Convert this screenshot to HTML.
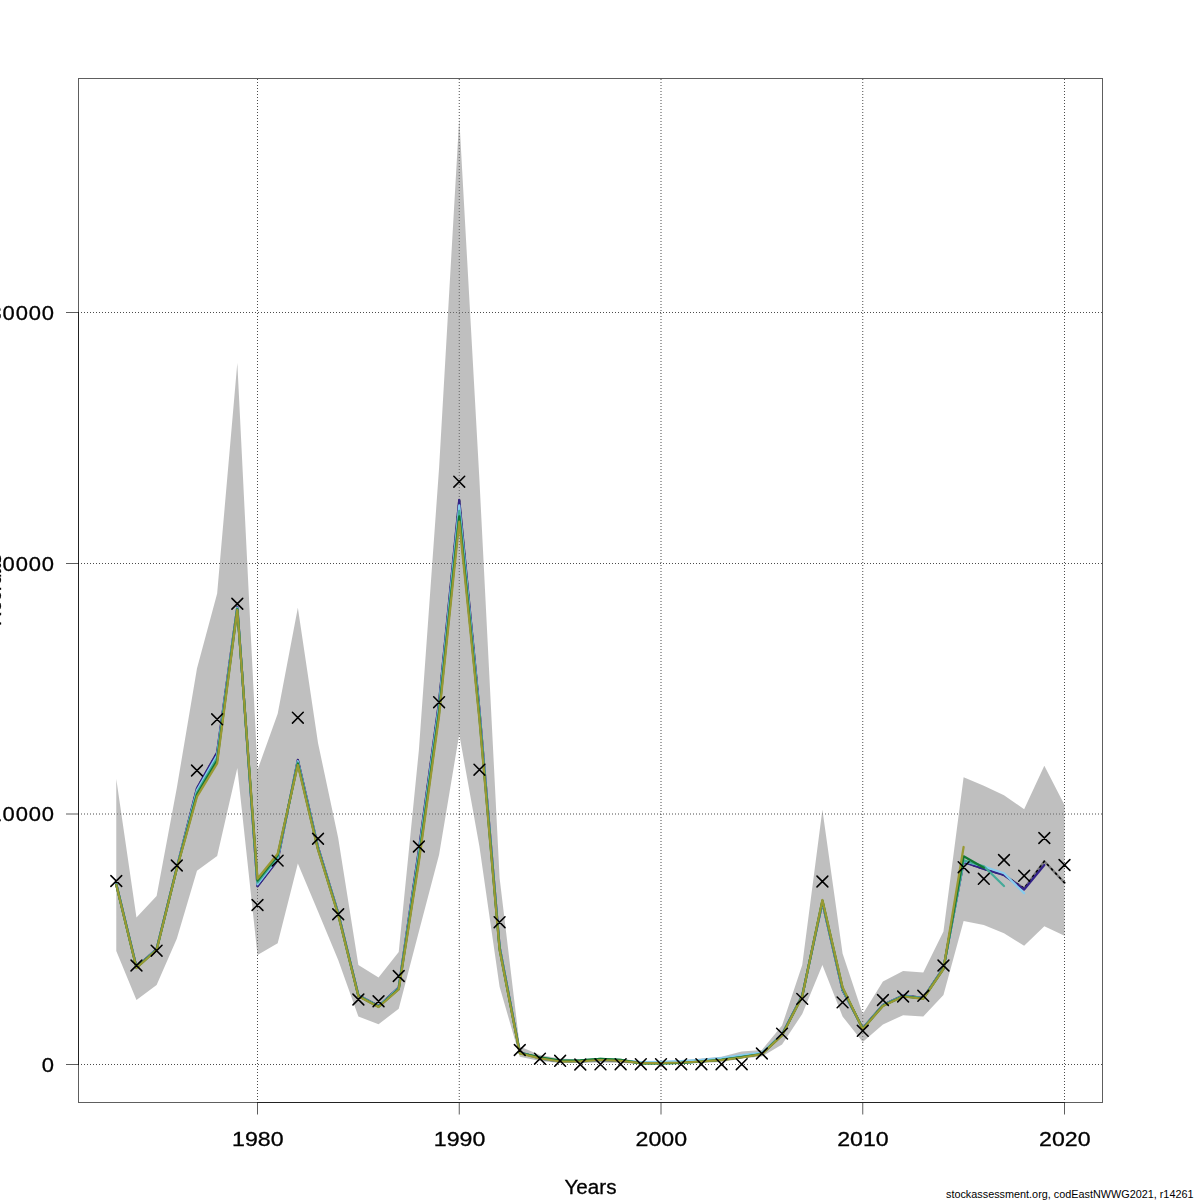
<!DOCTYPE html>
<html><head><meta charset="utf-8"><title>Recruitment</title>
<style>
html,body{margin:0;padding:0;background:#fff;width:1200px;height:1200px;overflow:hidden;}
svg{display:block;font-family:"Liberation Sans",sans-serif;}
</style></head><body>
<svg width="1200" height="1200" viewBox="0 0 1200 1200">
<line x1="257.50" y1="79" x2="257.50" y2="1102" stroke="#000" stroke-opacity="0.7" stroke-width="1" stroke-dasharray="1,2"/>
<line x1="459.25" y1="79" x2="459.25" y2="1102" stroke="#000" stroke-opacity="0.7" stroke-width="1" stroke-dasharray="1,2"/>
<line x1="661.00" y1="79" x2="661.00" y2="1102" stroke="#000" stroke-opacity="0.7" stroke-width="1" stroke-dasharray="1,2"/>
<line x1="862.75" y1="79" x2="862.75" y2="1102" stroke="#000" stroke-opacity="0.7" stroke-width="1" stroke-dasharray="1,2"/>
<line x1="1064.50" y1="79" x2="1064.50" y2="1102" stroke="#000" stroke-opacity="0.7" stroke-width="1" stroke-dasharray="1,2"/>
<line x1="78" y1="312.50" x2="1102" y2="312.50" stroke="#000" stroke-opacity="0.7" stroke-width="1" stroke-dasharray="1,2"/>
<line x1="78" y1="563.50" x2="1102" y2="563.50" stroke="#000" stroke-opacity="0.7" stroke-width="1" stroke-dasharray="1,2"/>
<line x1="78" y1="814.00" x2="1102" y2="814.00" stroke="#000" stroke-opacity="0.7" stroke-width="1" stroke-dasharray="1,2"/>
<line x1="78" y1="1064.50" x2="1102" y2="1064.50" stroke="#000" stroke-opacity="0.7" stroke-width="1" stroke-dasharray="1,2"/>
<polygon points="116.28,779.00 136.45,917.50 156.62,896.00 176.80,788.00 196.97,668.50 217.15,593.50 237.32,363.00 257.50,770.00 277.68,713.75 297.85,607.80 318.02,743.00 338.20,838.00 358.38,965.00 378.55,977.50 398.73,952.00 418.90,750.00 439.08,468.00 459.25,118.30 479.43,480.00 499.60,878.00 519.78,1046.50 539.95,1055.00 560.12,1058.50 580.30,1059.50 600.48,1059.00 620.65,1059.00 640.83,1061.00 661.00,1061.00 681.17,1060.50 701.35,1058.50 721.53,1056.70 741.70,1051.50 761.88,1050.00 782.05,1025.50 802.23,965.00 822.40,809.80 842.58,953.40 862.75,1014.00 882.93,981.40 903.10,970.90 923.27,972.50 943.45,931.50 963.62,777.20 983.80,785.80 1003.98,795.30 1024.15,809.20 1044.33,765.80 1064.50,805.00 1064.50,935.80 1044.33,926.30 1024.15,945.80 1003.98,933.30 983.80,925.00 963.62,921.00 943.45,995.00 923.27,1016.40 903.10,1015.20 882.93,1024.50 862.75,1042.00 842.58,1016.40 822.40,965.00 802.23,1014.00 782.05,1044.40 761.88,1056.50 741.70,1058.50 721.53,1062.00 701.35,1063.00 681.17,1064.00 661.00,1064.00 640.83,1064.00 620.65,1063.00 600.48,1062.50 580.30,1063.00 560.12,1063.00 539.95,1061.00 519.78,1056.70 499.60,986.70 479.43,846.40 459.25,734.20 439.08,854.70 418.90,931.40 398.73,1008.75 378.55,1024.25 358.38,1016.50 338.20,960.00 318.02,911.60 297.85,863.50 277.68,943.25 257.50,955.00 237.32,768.00 217.15,856.00 196.97,870.80 176.80,938.80 156.62,985.00 136.45,1000.00 116.28,951.00" fill="#7f7f7f" fill-opacity="0.5" stroke="none"/>
<polyline points="116.28,884.00 136.45,967.00 156.62,949.00 176.80,867.70 196.97,788.30 217.15,752.50 237.32,607.00 257.50,886.25 277.68,859.95 297.85,760.00 318.02,847.00 338.20,913.00 358.38,995.25 378.55,1006.00 398.73,987.50 418.90,850.00 439.08,702.00 459.25,500.00 479.43,710.00 499.60,947.00 519.78,1052.30 539.95,1058.30 560.12,1061.50 580.30,1061.30 600.48,1060.00 620.65,1060.80 640.83,1062.70 661.00,1062.70 681.17,1062.20 701.35,1061.10 721.53,1059.60 741.70,1056.90 761.88,1053.70 782.05,1034.40 802.23,995.50 822.40,902.50 842.58,990.20 862.75,1028.20 882.93,1004.90 903.10,995.50 923.27,997.90 943.45,968.00 963.62,862.00 983.80,869.00 1003.98,875.00 1024.15,888.40 1044.33,861.25 1064.50,882.75" fill="none" stroke="#7a7a7a" stroke-width="2.3" stroke-linejoin="round" stroke-linecap="round"/>
<polyline points="1064.50,882.75 1044.33,861.25 1024.15,888.40 1003.98,875.00 983.80,869.00 963.62,862.00 943.45,968.00 923.27,997.90 903.10,995.50 882.93,1004.90 862.75,1028.20 842.58,990.20 822.40,902.50 802.23,995.50 782.05,1034.40 761.88,1053.70 741.70,1056.90 721.53,1059.60 701.35,1061.10 681.17,1062.20 661.00,1062.70 640.83,1062.70 620.65,1060.80 600.48,1060.00 580.30,1061.30 560.12,1061.50 539.95,1058.30 519.78,1052.30 499.60,947.00 479.43,710.00 459.25,500.00 439.08,702.00 418.90,850.00 398.73,987.50 378.55,1006.00 358.38,995.25 338.20,913.00 318.02,847.00 297.85,760.00 277.68,859.95 257.50,886.25 237.32,607.00 217.15,752.50 196.97,788.30 176.80,867.70 156.62,949.00 136.45,967.00 116.28,884.00" fill="none" stroke="#000" stroke-width="1.6" stroke-dasharray="1.4,4.5" stroke-linecap="round" stroke-linejoin="round"/>
<polyline points="116.28,884.00 136.45,967.00 156.62,949.00 176.80,867.70 196.97,788.30 217.15,752.50 237.32,607.00 257.50,886.25 277.68,859.95 297.85,760.00 318.02,847.00 338.20,913.00 358.38,995.25 378.55,1006.00 398.73,987.50 418.90,850.00 439.08,702.00 459.25,500.00 479.43,710.00 499.60,947.00 519.78,1052.30 539.95,1058.30 560.12,1061.50 580.30,1061.30 600.48,1060.00 620.65,1060.80 640.83,1062.70 661.00,1062.70 681.17,1062.20 701.35,1061.10 721.53,1059.60 741.70,1056.90 761.88,1053.70 782.05,1034.40 802.23,995.50 822.40,902.50 842.58,990.20 862.75,1028.20 882.93,1004.90 903.10,995.50 923.27,997.90 943.45,968.00 963.62,862.00 983.80,869.00 1003.98,875.00 1024.15,889.50 1044.33,865.00" fill="none" stroke="#332288" stroke-width="2.25" stroke-linejoin="round" stroke-linecap="round"/>
<polyline points="116.28,884.25 136.45,967.25 156.62,949.25 176.80,867.95 196.97,790.40 217.15,755.20 237.32,607.75 257.50,884.38 277.68,858.40 297.85,761.25 318.02,847.75 338.20,913.50 358.38,995.50 378.55,1006.25 398.73,988.00 418.90,853.00 439.08,705.50 459.25,505.43 479.43,712.50 499.60,947.75 519.78,1052.55 539.95,1058.30 560.12,1061.50 580.30,1061.30 600.48,1060.00 620.65,1060.50 640.83,1062.00 661.00,1061.80 681.17,1061.20 701.35,1059.90 721.53,1058.00 741.70,1055.00 761.88,1052.70 782.05,1034.65 802.23,995.75 822.40,901.88 842.58,989.45 862.75,1028.45 882.93,1005.15 903.10,995.75 923.27,998.15 943.45,968.25 963.62,861.00 983.80,866.50 1003.98,873.30 1024.15,893.30" fill="none" stroke="#88ccee" stroke-width="2.25" stroke-linejoin="round" stroke-linecap="round"/>
<polyline points="116.28,884.50 136.45,967.50 156.62,949.50 176.80,868.20 196.97,792.50 217.15,757.90 237.32,608.50 257.50,882.50 277.68,856.85 297.85,762.50 318.02,848.50 338.20,914.00 358.38,995.75 378.55,1006.50 398.73,988.50 418.90,856.00 439.08,709.00 459.25,510.85 479.43,715.00 499.60,948.50 519.78,1052.80 539.95,1057.30 560.12,1060.50 580.30,1060.30 600.48,1058.80 620.65,1059.80 640.83,1063.30 661.00,1063.30 681.17,1062.80 701.35,1061.50 721.53,1059.60 741.70,1056.90 761.88,1053.80 782.05,1034.90 802.23,996.00 822.40,901.25 842.58,988.70 862.75,1028.70 882.93,1005.40 903.10,996.00 923.27,998.40 943.45,968.50 963.62,860.30 983.80,866.30 1003.98,886.00" fill="none" stroke="#44aa99" stroke-width="2.25" stroke-linejoin="round" stroke-linecap="round"/>
<polyline points="116.28,884.75 136.45,967.75 156.62,949.75 176.80,868.45 196.97,794.60 217.15,760.60 237.32,609.25 257.50,880.62 277.68,855.30 297.85,763.75 318.02,849.25 338.20,914.50 358.38,996.00 378.55,1006.75 398.73,989.00 418.90,859.00 439.08,712.50 459.25,516.28 479.43,717.50 499.60,949.25 519.78,1053.05 539.95,1057.30 560.12,1060.50 580.30,1060.30 600.48,1058.80 620.65,1059.80 640.83,1063.30 661.00,1063.30 681.17,1062.80 701.35,1061.50 721.53,1059.90 741.70,1057.20 761.88,1054.00 782.05,1035.15 802.23,996.25 822.40,900.62 842.58,987.95 862.75,1028.95 882.93,1005.65 903.10,996.25 923.27,998.65 943.45,968.75 963.62,856.30 983.80,867.70" fill="none" stroke="#117733" stroke-width="2.25" stroke-linejoin="round" stroke-linecap="round"/>
<polyline points="116.28,885.00 136.45,968.00 156.62,950.00 176.80,868.70 196.97,796.70 217.15,763.30 237.32,610.00 257.50,878.75 277.68,853.75 297.85,765.00 318.02,850.00 338.20,915.00 358.38,996.25 378.55,1007.00 398.73,989.50 418.90,862.00 439.08,716.00 459.25,521.70 479.43,720.00 499.60,950.00 519.78,1053.30 539.95,1058.30 560.12,1061.50 580.30,1061.30 600.48,1060.00 620.65,1060.80 640.83,1063.00 661.00,1063.00 681.17,1062.50 701.35,1061.50 721.53,1060.20 741.70,1057.50 761.88,1054.20 782.05,1035.40 802.23,996.50 822.40,900.00 842.58,987.20 862.75,1029.20 882.93,1005.90 903.10,996.50 923.27,998.90 943.45,969.00 963.62,847.00" fill="none" stroke="#999933" stroke-width="2.25" stroke-linejoin="round" stroke-linecap="round"/>
<path d="M110.88 875.60L121.68 886.40M110.88 886.40L121.68 875.60M131.05 960.10L141.85 970.90M131.05 970.90L141.85 960.10M151.22 945.30L162.03 956.10M151.22 956.10L162.03 945.30M171.40 860.10L182.20 870.90M171.40 870.90L182.20 860.10M191.57 765.10L202.38 775.90M191.57 775.90L202.38 765.10M211.75 713.90L222.55 724.70M211.75 724.70L222.55 713.90M231.92 598.35L242.72 609.15M231.92 609.15L242.72 598.35M252.10 899.60L262.90 910.40M252.10 910.40L262.90 899.60M272.28 855.20L283.07 866.00M272.28 866.00L283.07 855.20M292.45 712.30L303.25 723.10M292.45 723.10L303.25 712.30M312.62 833.35L323.42 844.15M312.62 844.15L323.42 833.35M332.80 908.85L343.60 919.65M332.80 919.65L343.60 908.85M352.98 994.10L363.77 1004.90M352.98 1004.90L363.77 994.10M373.15 995.85L383.95 1006.65M373.15 1006.65L383.95 995.85M393.33 970.60L404.12 981.40M393.33 981.40L404.12 970.60M413.50 841.10L424.30 851.90M413.50 851.90L424.30 841.10M433.68 696.80L444.48 707.60M433.68 707.60L444.48 696.80M453.85 476.30L464.65 487.10M453.85 487.10L464.65 476.30M474.03 764.30L484.82 775.10M474.03 775.10L484.82 764.30M494.20 916.80L505.00 927.60M494.20 927.60L505.00 916.80M514.38 1044.60L525.18 1055.40M514.38 1055.40L525.18 1044.60M534.55 1053.30L545.35 1064.10M534.55 1064.10L545.35 1053.30M554.73 1055.40L565.52 1066.20M554.73 1066.20L565.52 1055.40M574.90 1059.10L585.70 1069.90M574.90 1069.90L585.70 1059.10M595.08 1058.90L605.88 1069.70M595.08 1069.70L605.88 1058.90M615.25 1058.80L626.05 1069.60M615.25 1069.60L626.05 1058.80M635.43 1058.80L646.23 1069.60M635.43 1069.60L646.23 1058.80M655.60 1058.80L666.40 1069.60M655.60 1069.60L666.40 1058.80M675.77 1058.80L686.57 1069.60M675.77 1069.60L686.57 1058.80M695.95 1058.80L706.75 1069.60M695.95 1069.60L706.75 1058.80M716.13 1058.80L726.93 1069.60M716.13 1069.60L726.93 1058.80M736.30 1058.80L747.10 1069.60M736.30 1069.60L747.10 1058.80M756.48 1048.10L767.27 1058.90M756.48 1058.90L767.27 1048.10M776.65 1028.20L787.45 1039.00M776.65 1039.00L787.45 1028.20M796.83 993.50L807.62 1004.30M796.83 1004.30L807.62 993.50M817.00 876.10L827.80 886.90M817.00 886.90L827.80 876.10M837.18 997.00L847.98 1007.80M837.18 1007.80L847.98 997.00M857.35 1025.40L868.15 1036.20M857.35 1036.20L868.15 1025.40M877.53 994.60L888.33 1005.40M877.53 1005.40L888.33 994.60M897.70 991.10L908.50 1001.90M897.70 1001.90L908.50 991.10M917.88 990.40L928.67 1001.20M917.88 1001.20L928.67 990.40M938.05 960.10L948.85 970.90M938.05 970.90L948.85 960.10M958.23 861.80L969.02 872.60M958.23 872.60L969.02 861.80M978.40 873.40L989.20 884.20M978.40 884.20L989.20 873.40M998.58 854.60L1009.38 865.40M998.58 865.40L1009.38 854.60M1018.75 870.40L1029.55 881.20M1018.75 881.20L1029.55 870.40M1038.92 832.60L1049.73 843.40M1038.92 843.40L1049.73 832.60M1059.10 859.60L1069.90 870.40M1059.10 870.40L1069.90 859.60" stroke="#000" stroke-width="1.5" stroke-linecap="round" fill="none"/>
<rect x="78.5" y="78.5" width="1024" height="1024" fill="none" stroke="#000" stroke-opacity="0.63" stroke-width="1"/>
<line x1="78.5" y1="312.50" x2="78.5" y2="1064.50" stroke="#000" stroke-opacity="0.63" stroke-width="1"/>
<line x1="257.00" y1="1102.5" x2="1065.00" y2="1102.5" stroke="#000" stroke-opacity="0.63" stroke-width="1"/>
<line x1="257.50" y1="1103" x2="257.50" y2="1114.5" stroke="#000" stroke-opacity="0.63" stroke-width="1"/>
<line x1="459.25" y1="1103" x2="459.25" y2="1114.5" stroke="#000" stroke-opacity="0.63" stroke-width="1"/>
<line x1="661.00" y1="1103" x2="661.00" y2="1114.5" stroke="#000" stroke-opacity="0.63" stroke-width="1"/>
<line x1="862.75" y1="1103" x2="862.75" y2="1114.5" stroke="#000" stroke-opacity="0.63" stroke-width="1"/>
<line x1="1064.50" y1="1103" x2="1064.50" y2="1114.5" stroke="#000" stroke-opacity="0.63" stroke-width="1"/>
<line x1="66" y1="312.50" x2="78" y2="312.50" stroke="#000" stroke-opacity="0.63" stroke-width="1"/>
<line x1="66" y1="563.50" x2="78" y2="563.50" stroke="#000" stroke-opacity="0.63" stroke-width="1"/>
<line x1="66" y1="814.00" x2="78" y2="814.00" stroke="#000" stroke-opacity="0.63" stroke-width="1"/>
<line x1="66" y1="1064.50" x2="78" y2="1064.50" stroke="#000" stroke-opacity="0.63" stroke-width="1"/>
<g style="opacity:0.999" stroke="#000" stroke-width="0.3">
<text x="257.8" y="1146.3" font-family="Liberation Sans, sans-serif" font-size="19.8" text-anchor="middle" textLength="51.5" lengthAdjust="spacingAndGlyphs">1980</text>
<text x="459.6" y="1146.3" font-family="Liberation Sans, sans-serif" font-size="19.8" text-anchor="middle" textLength="51.5" lengthAdjust="spacingAndGlyphs">1990</text>
<text x="661.3" y="1146.3" font-family="Liberation Sans, sans-serif" font-size="19.8" text-anchor="middle" textLength="51.5" lengthAdjust="spacingAndGlyphs">2000</text>
<text x="863.0" y="1146.3" font-family="Liberation Sans, sans-serif" font-size="19.8" text-anchor="middle" textLength="51.5" lengthAdjust="spacingAndGlyphs">2010</text>
<text x="1064.8" y="1146.3" font-family="Liberation Sans, sans-serif" font-size="19.8" text-anchor="middle" textLength="51.5" lengthAdjust="spacingAndGlyphs">2020</text>
<text transform="translate(54.7,319.7) scale(1.11,1)" font-family="Liberation Sans, sans-serif" font-size="19.8" letter-spacing="0.72" text-anchor="end">30000</text>
<text transform="translate(54.7,570.7) scale(1.11,1)" font-family="Liberation Sans, sans-serif" font-size="19.8" letter-spacing="0.72" text-anchor="end">20000</text>
<text transform="translate(54.7,821.2) scale(1.11,1)" font-family="Liberation Sans, sans-serif" font-size="19.8" letter-spacing="0.72" text-anchor="end">10000</text>
<text transform="translate(54.7,1071.7) scale(1.11,1)" font-family="Liberation Sans, sans-serif" font-size="19.8" letter-spacing="0.72" text-anchor="end">0</text>
<text x="564.5" y="1193.8" font-family="Liberation Sans, sans-serif" font-size="19.6" textLength="52" lengthAdjust="spacingAndGlyphs">Years</text>
<text transform="translate(1.0,590) rotate(-90)" font-family="Liberation Sans, sans-serif" font-size="19.6" text-anchor="middle">Recruits</text>
</g>
<text style="opacity:0.999" x="946" y="1197.5" font-family="Liberation Sans, sans-serif" font-size="10" textLength="247.5" lengthAdjust="spacingAndGlyphs">stockassessment.org, codEastNWWG2021, r14261</text>
</svg>
</body></html>
